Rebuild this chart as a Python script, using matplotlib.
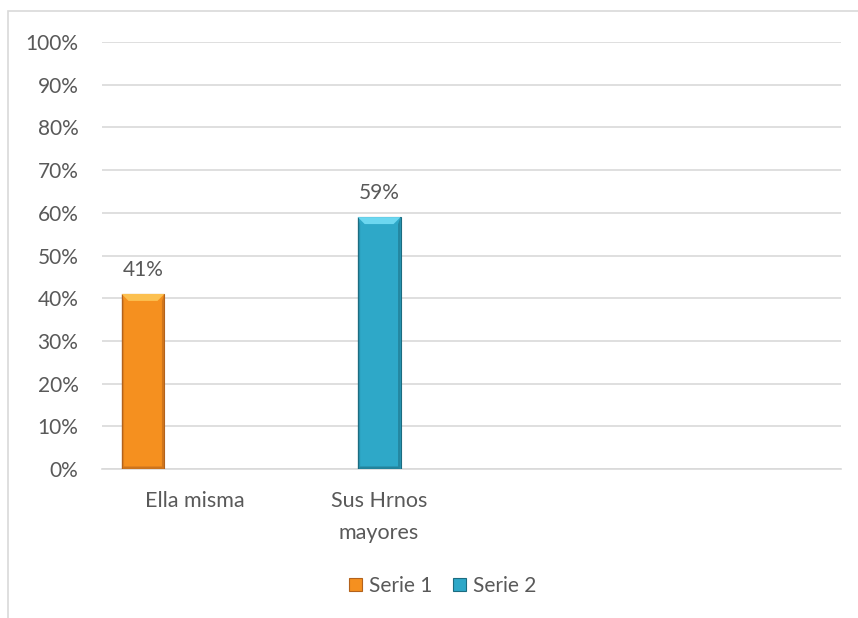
"""Column chart: who takes care of her (Ella misma vs. older siblings)."""

import matplotlib

matplotlib.use("Agg")

import matplotlib.pyplot as plt
import numpy as np
from matplotlib.patches import Patch, Polygon, Rectangle
from matplotlib.ticker import PercentFormatter

CATEGORIES = ["Ella misma", "Sus Hrnos\nmayores", "", ""]
SERIES_NAMES = ["Serie 1", "Serie 2"]
SERIE_1 = [0.41, np.nan, np.nan, np.nan]
SERIE_2 = [np.nan, 0.59, np.nan, np.nan]
Y_TICKS = [0.0, 0.1, 0.2, 0.3, 0.4, 0.5, 0.6, 0.7, 0.8, 0.9, 1.0]

TEXT = "#595959"
GRID = "#D9D9D9"
STYLES = {
    "Serie 1": dict(body="#F5901F", top="#FCC050", edge="#B3621C", offset=-0.278),
    "Serie 2": dict(body="#2EA8C8", top="#6CD7F0", edge="#1C6C80", offset=0.0),
}
BAR_WIDTH = 0.232

plt.rcParams["font.family"] = ["Lato", "DejaVu Sans"]

fig = plt.figure(figsize=(8.58, 6.18), dpi=100)
ax = fig.add_axes([102 / 858, 1 - 469 / 618, 739 / 858, 427 / 618])

x = np.arange(len(CATEGORIES))
ax.set_xlim(-0.5, len(CATEGORIES) - 0.5)
ax.set_ylim(0, 1)

# pixel -> data scale for the bevel strips
bbox = ax.get_window_extent()
px_x = len(CATEGORIES) / bbox.width
px_y = 1.0 / bbox.height


def bevel_bar(xc, h, st):
    left = xc - BAR_WIDTH / 2
    right = xc + BAR_WIDTH / 2
    ax.bar(xc, h, width=BAR_WIDTH, color=st["body"], edgecolor=st["edge"],
           linewidth=0.8, zorder=3)
    bx, by = 7 * px_x, 7 * px_y
    ex, ey = 2.5 * px_x, 2.5 * px_y
    # top bevel
    ax.add_patch(Polygon([(left, h), (right, h), (right - bx, h - by),
                          (left + bx, h - by)], closed=True,
                         facecolor=st["top"], edgecolor="none", zorder=4))
    # side and bottom shading
    ax.add_patch(Polygon([(right, h), (right, 0), (right - ex, ey),
                          (right - ex, h - by)], closed=True,
                         facecolor=st["edge"], alpha=0.55, edgecolor="none", zorder=4))
    ax.add_patch(Polygon([(left, h), (left, 0), (left + ex, ey),
                          (left + ex, h - by)], closed=True,
                         facecolor=st["edge"], alpha=0.35, edgecolor="none", zorder=4))
    ax.add_patch(Polygon([(left, 0), (right, 0), (right - ex, ey),
                          (left + ex, ey)], closed=True,
                         facecolor=st["edge"], alpha=0.6, edgecolor="none", zorder=4))
    ax.text(xc, h + 24 * px_y, f"{h:.0%}", ha="center", va="center",
            fontsize=15, color=TEXT, zorder=5)


for name, values in zip(SERIES_NAMES, [SERIE_1, SERIE_2]):
    st = STYLES[name]
    for xi, v in zip(x, values):
        if not np.isnan(v):
            bevel_bar(xi + st["offset"], v, st)

ax.set_yticks(Y_TICKS)
ax.yaxis.set_major_formatter(PercentFormatter(1.0, decimals=0))
ax.set_xticks(x)
ax.set_xticklabels(CATEGORIES, linespacing=1.75)
ax.tick_params(axis="y", length=0, pad=17, labelsize=15, labelcolor=TEXT)
ax.tick_params(axis="x", length=0, pad=16, labelsize=15.5, labelcolor=TEXT)
ax.grid(axis="y", color=GRID, linewidth=1.2, zorder=0)
ax.set_axisbelow(True)
for side in ["top", "right", "left"]:
    ax.spines[side].set_visible(False)
ax.spines["bottom"].set_color(GRID)
ax.spines["bottom"].set_linewidth(1.2)

handles = [Patch(facecolor=STYLES[n]["body"], edgecolor=STYLES[n]["edge"],
                 linewidth=0.8, label=n) for n in SERIES_NAMES]
fig.legend(handles=handles, loc="center", bbox_to_anchor=(443 / 858, 1 - 586 / 618),
           ncol=2, frameon=False, fontsize=15, labelcolor=TEXT,
           handlelength=0.6, handleheight=0.6, handletextpad=0.35,
           columnspacing=1.0)

# chart area border
fig.add_artist(Rectangle((8 / 858, -0.1), 1.2, 1.1 - 11 / 618,
                         transform=fig.transFigure, fill=False,
                         edgecolor=GRID, linewidth=1.2, clip_on=False))

fig.savefig("out.png", dpi=100, facecolor="white")
